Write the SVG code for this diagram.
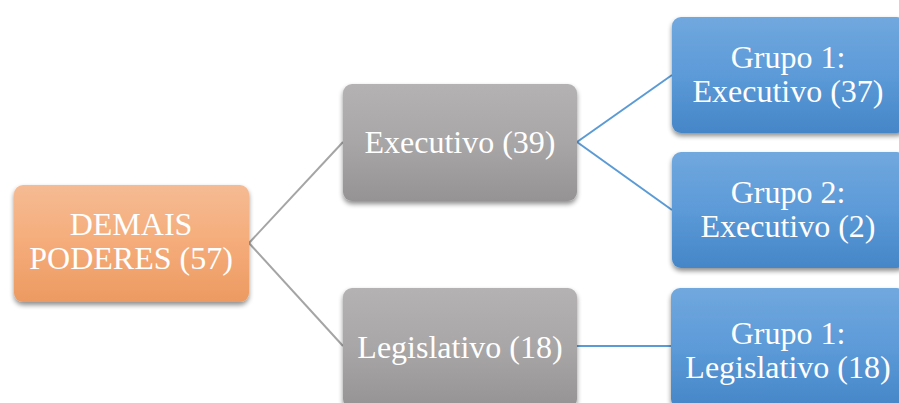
<svg xmlns="http://www.w3.org/2000/svg" width="899" height="403" viewBox="0 0 899 403">
<defs>
<linearGradient id="gOr" x1="0" y1="0" x2="0" y2="1"><stop offset="0" stop-color="#f5bb93"/><stop offset="0.5" stop-color="#f5ac7a"/><stop offset="1" stop-color="#ec9a61"/></linearGradient>
<linearGradient id="gGr" x1="0" y1="0" x2="0" y2="1"><stop offset="0" stop-color="#b4b2b2"/><stop offset="0.5" stop-color="#a8a6a6"/><stop offset="1" stop-color="#959393"/></linearGradient>
<linearGradient id="gBl" x1="0" y1="0" x2="0" y2="1"><stop offset="0" stop-color="#71a8de"/><stop offset="0.5" stop-color="#5c9ad8"/><stop offset="1" stop-color="#4586c8"/></linearGradient>
<filter id="sh" x="-10%" y="-10%" width="120%" height="130%"><feGaussianBlur in="SourceAlpha" stdDeviation="2.5"/><feOffset dx="0" dy="3"/><feComponentTransfer><feFuncA type="linear" slope="0.45"/></feComponentTransfer><feMerge><feMergeNode/><feMergeNode in="SourceGraphic"/></feMerge></filter>
</defs>
<style>
.t{font-family:'Liberation Serif','Times New Roman',serif;font-size:32px;fill:#ffffff;text-anchor:middle}
.box{filter:url(#sh)}
.cg{stroke:#a5a5a5;stroke-width:2;fill:none}
.cb{stroke:#5b9bd5;stroke-width:2;fill:none}
</style>
<rect width="899" height="403" fill="#ffffff"/>
<g id="connectors">
<path class="cg" d="M249,243 L343,142"/>
<path class="cg" d="M249,243 L343,346"/>
<path class="cb" d="M577,142 L672,75"/>
<path class="cb" d="M577,142 L672,210"/>
<path class="cb" d="M577,346 L671,346"/>
</g>
<g id="demais" font-family="Liberation Serif, serif">
<rect class="box" x="14" y="185" width="235" height="117" rx="9" fill="url(#gOr)"/>
<text class="t" x="131" y="235">DEMAIS</text>
<text class="t" x="131" y="269">PODERES (57)</text>
</g>
<g id="executivo" font-family="Liberation Serif, serif">
<rect class="box" x="343" y="84" width="234" height="117" rx="9" fill="url(#gGr)"/>
<text class="t" x="460" y="153">Executivo (39)</text>
</g>
<g id="legislativo" font-family="Liberation Serif, serif">
<rect class="box" x="343" y="288" width="234" height="120" rx="9" fill="url(#gGr)"/>
<text class="t" x="460" y="358">Legislativo (18)</text>
</g>
<g id="grupo1exec" font-family="Liberation Serif, serif">
<rect class="box" x="672" y="17" width="234" height="116" rx="9" fill="url(#gBl)"/>
<text class="t" x="788" y="68">Grupo 1:</text>
<text class="t" x="788" y="102">Executivo (37)</text>
</g>
<g id="grupo2exec" font-family="Liberation Serif, serif">
<rect class="box" x="672" y="152" width="234" height="116" rx="9" fill="url(#gBl)"/>
<text class="t" x="788" y="203">Grupo 2:</text>
<text class="t" x="788" y="237">Executivo (2)</text>
</g>
<g id="grupo1leg" font-family="Liberation Serif, serif">
<rect class="box" x="671" y="288" width="235" height="120" rx="9" fill="url(#gBl)"/>
<text class="t" x="788" y="344">Grupo 1:</text>
<text class="t" x="788" y="378">Legislativo (18)</text>
</g>
</svg>
